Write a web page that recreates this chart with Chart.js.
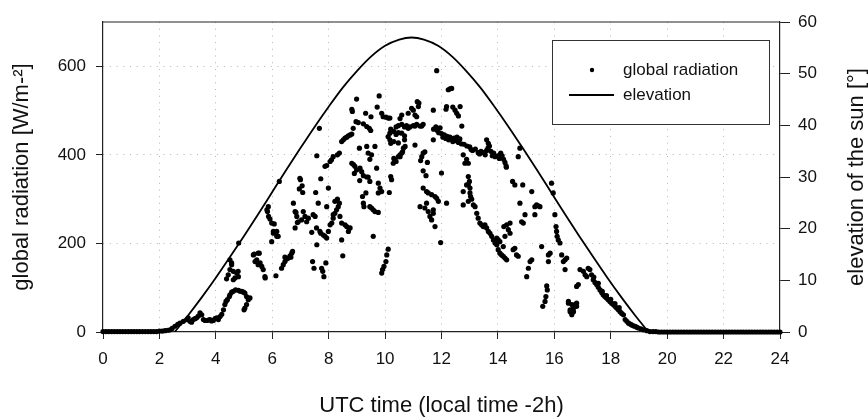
<!DOCTYPE html>
<html>
<head>
<meta charset="utf-8">
<script src="https://cdn.jsdelivr.net/npm/chart.js@4.4.0/dist/chart.umd.min.js"></script>
<style>
  html, body { margin: 0; padding: 0; background: #fff; }
</style>
</head>
<body>
<canvas id="chart" width="868" height="419"></canvas>
<script>
// hour of day (UTC), global radiation W/m-2
const radiation = [
  [0,1],[0.1,1],[0.2,1],[0.3,1],[0.4,1],[0.5,1],[0.6,1],[0.7,1],[0.8,1],[0.9,1],[1,1],[1.1,1],
  [1.2,1],[1.3,1],[1.4,1],[1.5,1],[1.6,1],[1.7,1],[1.8,1],[1.9,1],[2,2],[2.1,2],[2.2,3],[2.3,4],
  [2.38,5],[2.45,8],[2.55,13],[2.65,17],[2.73,20],[2.85,24],[2.97,28],[3.02,32],[3.08,24],[3.14,22],
  [3.2,28],[3.26,30],[3.32,32],[3.38,36],[3.44,43],[3.5,39],[3.56,28],[3.62,26],[3.68,26],[3.74,27],
  [3.79,28],[3.85,25],[3.91,26],[3.97,30],[4.03,32],[4.09,28],[4.15,35],[4.21,40],[4.27,50],[4.32,62],
  [4.36,69],[4.41,73],[4.48,80],[4.5,84],[4.56,90],[4.62,92],[4.7,95],[4.8,94],[4.86,92],[4.92,92],
  [4.98,90],[5.03,88],[5.09,80],[5.15,73],[5.21,77],[5.09,62],[5.03,54],[5.0,50],
  [4.38,120],[4.44,129],[4.5,141],[4.5,163],[4.56,152],[4.56,156],[4.62,137],[4.62,118],[4.68,122],
  [4.74,133],[4.79,137],[4.8,125],[4.81,201],
  [5.33,174],[5.36,176],[5.39,159],[5.45,163],[5.5,178],[5.5,152],[5.54,178],[5.57,156],[5.63,148],
  [5.68,141],[5.74,125],[5.75,122],
  [5.81,276],[5.83,272],[5.86,283],[5.87,261],[5.92,255],[5.98,246],[5.98,204],[6.04,227],[6.04,223],
  [6.07,244],[6.13,127],[6.16,216],[6.16,227],[6.21,216],[6.25,340],[6.33,144],[6.39,152],[6.45,159],
  [6.45,169],[6.51,165],[6.57,167],[6.63,172],[6.66,169],[6.69,178],[6.72,182],[6.75,291],[6.81,272],
  [6.81,235],[6.84,270],[6.87,261],[6.89,247],[6.92,249],[6.96,323],[6.98,347],
  [7.0,344],[7.04,253],[7.06,330],[7.08,315],[7.1,272],[7.16,261],[7.22,249],[7.28,257],[7.4,225],
  [7.43,159],[7.45,265],[7.48,144],[7.52,261],[7.54,315],[7.57,235],[7.58,398],[7.58,197],[7.63,291],
  [7.67,460],[7.69,227],[7.72,223],[7.72,346],[7.75,144],[7.79,137],[7.81,219],[7.83,125],[7.87,216],
  [7.87,374],[7.9,156],[7.93,212],[7.93,283],[7.93,376],[7.99,227],[7.99,325],[8.05,242],[8.05,385],
  [8.11,246],[8.1,389],[8.16,257],[8.16,265],[8.16,396],[8.22,268],[8.22,295],[8.28,276],[8.31,300],
  [8.31,400],[8.34,283],[8.38,291],[8.38,404],[8.4,261],[8.46,246],[8.46,208],[8.46,430],[8.5,172],
  [8.52,434],[8.58,242],[8.58,438],[8.64,238],[8.64,440],[8.7,227],[8.7,443],[8.76,235],[8.76,445],
  [8.82,447],[8.82,503],[8.82,381],[8.87,460],[8.84,498],[8.88,378],[8.93,374],[8.91,358],[8.97,475],
  [8.99,526],[8.99,366],[9.11,370],[9.17,362],[9.23,353],[9.35,350],[9.4,350],[9.46,340],[9.1,342],
  [9.05,473],[9.23,470],[9.35,464],[9.44,460],[9.49,455],
  [9.09,415],[9.35,419],[9.4,404],[9.52,400],[9.64,419],[9.46,390],[9.7,370],
  [9.2,306],[9.32,314],[9.23,291],[9.25,283],[9.46,283],[9.52,280],[9.58,276],[9.64,272],[9.76,270],
  [9.58,216],[9.31,494],[9.5,486],[9.72,508],[9.79,533],
  [9.76,336],[9.82,325],[9.76,314],[9.88,317],
  [9.88,494],[9.93,486],[10.03,485],[10.11,483],[10.17,483],
  [9.88,133],[9.91,141],[9.96,148],[10.03,159],[10.06,174],[10.11,187],
  [10.15,315],[10.2,351],[10.23,344],
  [10.29,381],[10.39,385],[10.47,396],[10.53,400],[10.59,404],[10.62,407],
  [10.11,441],[10.17,434],[10.2,426],[10.31,430],[10.39,446],[10.47,450],[10.59,449],[10.69,443],
  [10.69,434],[10.47,427],[10.65,415],[10.71,419],[10.31,392],[10.35,388],[10.53,396],
  [10.17,449],[10.2,458],[10.31,453],[10.39,463],[10.47,466],[10.59,469],[10.69,463],[10.76,466],
  [10.82,460],[10.88,463],[11.0,466],[11.06,465],[11.12,469],[11.24,465],[11.3,465],[11.35,469],
  [10.53,482],[10.59,490],[10.82,494],[10.94,505],[11.0,501],[11.06,490],[11.12,486],[11.14,520],
  [11.18,509],[11.2,517],
  [11.06,422],[11.41,407],[11.35,404],[11.3,396],[11.26,387],[11.5,383],[11.35,364],[11.45,353],
  [11.35,325],[11.47,317],[11.53,314],[11.65,310],[11.77,306],[11.83,302],
  [11.24,283],[11.41,280],[11.47,291],[11.53,272],[11.59,261],[11.65,253],[11.71,268],[11.77,238],
  [11.71,276],[11.89,295],[11.97,202],[12.0,359],[12.18,291],
  [11.71,501],[11.83,590],[12.16,503],[12.18,509],[12.24,547],[12.3,549],[12.36,550],[12.4,508],
  [12.48,501],[12.54,494],[12.6,488],[12.66,509],[12.72,465],
  [11.71,434],[11.72,458],[11.8,463],[11.85,455],[11.9,450],[11.95,461],[12.0,448],[12.05,440],
  [12.1,445],[12.15,437],[12.2,442],[12.25,434],[12.3,440],[12.35,436],[12.4,430],[12.45,438],
  [12.5,432],[12.55,440],[12.6,428],[12.65,436],[12.7,425],[12.8,424],[12.9,420],[13.0,418],
  [13.05,412],[13.1,410],[13.2,413],[13.3,405],[13.35,402],[13.4,408],[13.5,405],[13.55,400],
  [13.6,434],[13.66,426],[13.6,410],[13.65,416],[13.7,420],[13.75,408],[13.8,398],[13.85,404],
  [13.9,396],[14.0,398],[14.05,392],[14.07,400],[14.1,404],[14.15,398],[14.2,390],[14.25,383],
  [14.29,375],[14.3,372],
  [12.77,400],[12.83,381],[12.89,390],[12.95,381],
  [12.95,351],[12.99,340],[12.95,332],[12.89,332],[13.01,325],[12.77,317],[13.01,314],[13.03,306],
  [13.07,300],
  [12.77,287],[12.95,295],[13.13,287],[13.19,283],[13.25,268],[13.3,257],[13.36,246],[13.42,242],
  [13.48,238],[13.54,242],[13.6,235],[13.66,227],[13.72,223],[13.78,216],[13.84,208],[13.9,201],
  [13.96,197],[14.01,186],[14.07,178],[14.13,174],[14.19,171],[14.25,167],[14.31,163],
  [13.96,212],[14.01,208],[14.07,204],[14.19,193],[14.25,216],[14.21,238],[14.31,242],[14.43,246],
  [14.37,231],[14.43,223],[14.54,186],[14.6,189],[14.66,174],[14.72,171],
  [14.52,340],[14.6,332],[14.88,332],[14.72,396],[14.78,415],[15.2,317],
  [14.78,291],[14.84,249],[14.9,246],[14.96,265],[15.02,125],[15.08,144],[15.14,159],[15.2,163],
  [15.31,283],[15.37,287],[15.43,285],[15.49,283],[15.31,265],
  [15.55,193],[15.79,174],[15.79,159],[15.85,178],
  [15.59,58],[15.67,69],[15.7,80],[15.75,95],[15.73,104],
  [15.9,336],[15.96,314],
  [16.02,265],[16.06,238],[16.08,227],[16.1,216],[16.14,208],[16.2,201],[16.26,174],[16.32,159],
  [16.38,163],[16.44,167],[16.38,141],
  [16.5,69],[16.56,50],[16.62,43],[16.68,46],[16.73,62],[16.79,65],[16.85,107],[16.79,103],[16.5,65],
  [16.62,62],[16.68,54],[16.56,46],[16.62,39],[16.79,58],
  [16.91,141],[17.03,137],[17.09,129],[17.15,125],[17.2,144],[17.26,141],[17.32,129],[17.38,118],
  [17.44,112],[17.5,107],[17.56,101],[17.62,95],[17.68,89],[17.73,84],[17.79,80],[17.85,77],
  [17.91,73],[17.97,69],[18.03,65],[18.09,62],[18.15,58],[18.21,54],[18.27,50],[18.33,46],
  [18.39,42],[18.45,39],[17.4,124],[17.56,110],[17.7,92],[17.85,82],[18.0,74],[18.15,64],[18.3,55],
  [18.51,28],[18.57,24],[18.63,20],[18.69,18],[18.74,16],[18.8,14],[18.86,13],[18.92,11],[18.98,9],
  [19.07,7],[19.16,5],[19.28,3],[19.39,1],[19.5,1],[19.6,1],[19.7,0],[19.8,0],[19.9,0],
  [20,0],[20.1,0],[20.2,0],[20.3,0],[20.4,0],[20.5,0],[20.6,0],[20.7,0],[20.8,0],[20.9,0],
  [21,0],[21.1,0],[21.2,0],[21.3,0],[21.4,0],[21.5,0],[21.6,0],[21.7,0],[21.8,0],[21.9,0],
  [22,0],[22.1,0],[22.2,0],[22.3,0],[22.4,0],[22.5,0],[22.6,0],[22.7,0],[22.8,0],[22.9,0],
  [23,0],[23.1,0],[23.2,0],[23.3,0],[23.4,0],[23.5,0],[23.6,0],[23.7,0],[23.8,0],[23.9,0],[24,0]
];

// hour of day (UTC), elevation of the sun in degrees
const elevation = [
  [2.54,0],[3.0,3.1],[3.5,6.7],[4.0,10.5],[4.5,14.5],[5.0,18.6],[5.5,22.8],[6.0,27.1],[6.5,31.4],
  [7.0,35.6],[7.5,39.7],[8.0,43.6],[8.5,47.3],[9.0,50.5],[9.5,53.3],[10.0,55.4],[10.5,56.6],
  [10.94,57.0],[11.38,56.6],[11.88,55.4],[12.38,53.3],[12.88,50.5],[13.38,47.3],[13.88,43.6],
  [14.38,39.7],[14.88,35.6],[15.38,31.4],[15.88,27.1],[16.38,22.8],[16.88,18.6],[17.38,14.5],
  [17.88,10.5],[18.38,6.7],[18.88,3.1],[19.34,0]
];

const labels = ['global radiation', 'elevation'];
const axisTitles = ['UTC time (local time -2h)', 'global radiation [W/m-²]', 'elevation of the sun [°]'];

const FONT = 'Liberation Sans, Arial, sans-serif';
const gridColor = (ctx) => (ctx.tick && ctx.tick.value !== 0 && ctx.tick.value !== 24) ? '#b4b4b4' : 'rgba(0,0,0,0)';

// box top line, legend with frame, right axis title reading upwards
const extras = {
  id: 'extras',
  afterDraw(chart) {
    const { ctx, chartArea: ca } = chart;
    ctx.save();
    ctx.strokeStyle = '#222';
    ctx.lineWidth = 1.2;
    ctx.beginPath();
    ctx.moveTo(ca.left, ca.top);
    ctx.lineTo(ca.right, ca.top);
    ctx.stroke();

    // legend
    const bx = ca.right - 228, by = ca.top + 18, bw = 217, bh = 84;
    ctx.fillStyle = '#fff';
    ctx.fillRect(bx, by, bw, bh);
    ctx.lineWidth = 1;
    ctx.strokeStyle = '#333';
    ctx.strokeRect(bx + 0.5, by + 0.5, bw, bh);
    ctx.fillStyle = '#000';
    ctx.beginPath();
    ctx.arc(bx + 40, by + 30, 2.2, 0, Math.PI * 2);
    ctx.fill();
    ctx.lineWidth = 1.8;
    ctx.strokeStyle = '#000';
    ctx.beginPath();
    ctx.moveTo(bx + 17, by + 55);
    ctx.lineTo(bx + 62, by + 55);
    ctx.stroke();
    ctx.font = '17px ' + FONT;
    ctx.textBaseline = 'middle';
    ctx.textAlign = 'left';
    ctx.fillStyle = '#111';
    ctx.fillText(labels[0], bx + 71, by + 30);
    ctx.fillText(labels[1], bx + 71, by + 55);

    // right title
    ctx.translate(chart.width - 11, (ca.top + ca.bottom) / 2);
    ctx.rotate(-Math.PI / 2);
    ctx.textAlign = 'center';
    ctx.font = '22px ' + FONT;
    ctx.fillText(axisTitles[2], 0, 0);
    ctx.restore();
  }
};

new Chart(document.getElementById('chart'), {
  type: 'scatter',
  data: {
    datasets: [
      {
        label: labels[0],
        data: radiation.map(p => ({ x: p[0], y: p[1] })),
        yAxisID: 'y',
        pointRadius: 2.6,
        pointBorderWidth: 0,
        backgroundColor: '#000',
        borderColor: '#000',
        clip: false
      },
      {
        type: 'line',
        label: labels[1],
        data: elevation.map(p => ({ x: p[0], y: p[1] })),
        yAxisID: 'y2',
        borderColor: '#000',
        borderWidth: 1.8,
        pointRadius: 0,
        fill: false,
        cubicInterpolationMode: 'monotone'
      }
    ]
  },
  options: {
    responsive: false,
    animation: false,
    events: [],
    layout: { padding: { top: 22, left: 0, right: 0, bottom: 0 } },
    plugins: { legend: { display: false }, tooltip: { enabled: false } },
    scales: {
      x: {
        type: 'linear',
        min: 0,
        max: 24,
        afterFit(s) { s.height = 87; },
        ticks: { stepSize: 2, padding: 10, color: '#111', font: { family: FONT, size: 17 } },
        grid: { color: gridColor, lineWidth: 1, tickColor: '#222', tickLength: 7, tickWidth: 1 },
        border: { color: '#222', width: 1.2, dash: [1, 5.7] },
        title: { display: true, text: axisTitles[0], color: '#111', font: { family: FONT, size: 22 }, padding: { top: 0, bottom: 0 } }
      },
      y: {
        position: 'left',
        min: 0,
        max: 700,
        afterFit(s) { s.width = 103; },
        ticks: { stepSize: 200, includeBounds: false, padding: 10, color: '#111', font: { family: FONT, size: 17 } },
        grid: { color: gridColor, lineWidth: 1, tickColor: '#222', tickLength: 7, tickWidth: 1 },
        border: { color: '#222', width: 1.2, dash: [1, 5.7] },
        title: { display: true, text: axisTitles[1], color: '#111', font: { family: FONT, size: 22 }, padding: { top: 9, bottom: 0 } }
      },
      y2: {
        position: 'right',
        min: 0,
        max: 60,
        afterFit(s) { s.width = 88; },
        ticks: { stepSize: 10, padding: 8, color: '#111', font: { family: FONT, size: 17 } },
        grid: { drawOnChartArea: false, color: '#222', tickLength: 10, tickWidth: 1 },
        border: { color: '#222', width: 1.2 }
      }
    }
  },
  plugins: [extras]
});
</script>
</body>
</html>
